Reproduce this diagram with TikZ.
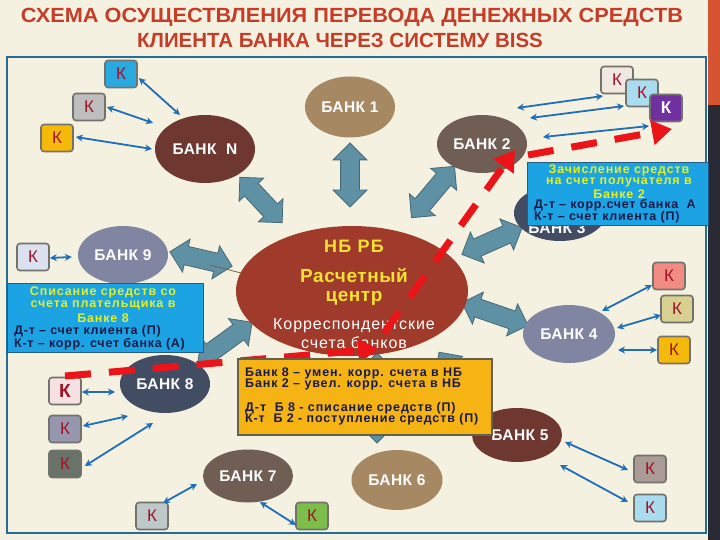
\documentclass[tikz,border=0pt]{standalone}
\usepackage{fontspec}
\setmainfont{Liberation Sans}
\usetikzlibrary{shapes.geometric,shapes.arrows,arrows.meta,calc}
\definecolor{bg}{RGB}{245,241,224}
\definecolor{titlered}{RGB}{197,60,40}
\definecolor{framecol}{RGB}{35,110,150}
\definecolor{stripor}{RGB}{214,84,50}
\definecolor{stripdk}{RGB}{42,42,52}
\definecolor{bafill}{RGB}{95,145,165}
\definecolor{badraw}{RGB}{70,105,120}
\definecolor{bluearr}{RGB}{30,110,185}
\definecolor{kborder}{RGB}{115,115,110}
\definecolor{kred}{RGB}{160,20,40}
\definecolor{redarr}{RGB}{235,20,25}
\definecolor{calfill}{RGB}{28,163,228}
\definecolor{calborder}{RGB}{40,90,130}
\definecolor{calyel}{RGB}{225,240,40}
\definecolor{darktxt}{RGB}{25,25,70}
\definecolor{ybox}{RGB}{245,180,20}
\definecolor{yboxborder}{RGB}{100,95,80}
\definecolor{cTan}{RGB}{166,137,99}
\definecolor{cGrayBrown}{RGB}{112,94,85}
\definecolor{cDarkBrown}{RGB}{110,55,48}
\definecolor{cCenter}{RGB}{160,58,42}
\definecolor{cSlate}{RGB}{128,134,162}
\definecolor{cNavy}{RGB}{66,76,99}
\definecolor{cenyel}{RGB}{245,225,50}
\definecolor{kcA}{RGB}{40,170,225}
\definecolor{kcB}{RGB}{190,190,190}
\definecolor{kcC}{RGB}{245,185,10}
\definecolor{kcD}{RGB}{240,232,225}
\definecolor{kcE}{RGB}{170,220,240}
\definecolor{kcF}{RGB}{112,48,160}
\definecolor{kcG}{RGB}{220,225,240}
\definecolor{kcH}{RGB}{245,225,225}
\definecolor{kcI}{RGB}{150,150,175}
\definecolor{kcJ}{RGB}{105,115,105}
\definecolor{kcK}{RGB}{190,200,200}
\definecolor{kcL}{RGB}{125,190,75}
\definecolor{kcM}{RGB}{240,140,130}
\definecolor{kcN}{RGB}{215,208,145}
\definecolor{kcO}{RGB}{170,155,150}
\newfontfamily\spacedA[LetterSpace=7]{Liberation Sans}
\newfontfamily\spacedB[LetterSpace=6]{Liberation Sans}
\newfontfamily\spacedC[LetterSpace=3]{Liberation Sans}
\tikzset{
  bank/.style={ellipse, fill=#1, draw=none, inner sep=0pt, text=white,
    font=\spacedC\fontsize{15.5}{15.5}\selectfont\bfseries},
  kbox/.style={rectangle, rounded corners=3pt, draw=kborder, line width=1.6pt,
    fill=#1, minimum width=32pt, minimum height=27pt, inner sep=0pt, text=kred,
    font=\fontsize{17}{17}\selectfont},
  barrow/.style={double arrow, fill=bafill, draw=badraw, line width=0.8pt,
    inner xsep=0pt, inner ysep=9pt, double arrow head extend=7.5pt,
    double arrow head indent=0pt},
  biarr/.style={draw=bluearr, line width=1.8pt,
    {Stealth[length=7pt,width=7pt]}-{Stealth[length=7pt,width=7pt]}},
  redline/.style={draw=redarr, line width=7pt, dash pattern=on 26pt off 18pt,
    -{Triangle[length=20pt,width=24pt]}},
  callout/.style={rectangle, fill=calfill, draw=calborder, line width=0.8pt,
    inner sep=0pt},
  calhead/.style={text=calyel, font=\spacedA\fontsize{12.5}{12.5}\selectfont\bfseries, inner sep=0pt},
  caldark/.style={text=darktxt, font=\spacedB\fontsize{12.5}{12.5}\selectfont\bfseries, inner sep=0pt, anchor=west},
  yline/.style={text=darktxt, font=\spacedA\fontsize{12.5}{12.5}\selectfont\bfseries, inner sep=0pt, anchor=west},
}
\begin{document}
\begin{tikzpicture}[x=1pt,y=-1pt]
\useasboundingbox (0,0) rectangle (720,540);
% background
\fill[bg] (0,0) rectangle (720,540);
\fill[stripor] (708,0) rectangle (720,105);
\fill[stripdk] (708,105) rectangle (720,540);
% title
\node[text=titlered, font=\fontsize{20.5}{20.5}\selectfont\bfseries, inner sep=0pt] (t1) at (352,17) {\scalebox{1.06}[1]{СХЕМА ОСУЩЕСТВЛЕНИЯ ПЕРЕВОДА ДЕНЕЖНЫХ СРЕДСТВ}};
\node[text=titlered, font=\fontsize{20.5}{20.5}\selectfont\bfseries, inner sep=0pt] (t2) at (340,40) {КЛИЕНТА БАНКА ЧЕРЕЗ СИСТЕМУ BISS};
% frame
\draw[framecol, line width=1.8pt] (7,57) rectangle (706,533);

% block double arrows
\node[barrow, minimum height=64pt, rotate=90] (ba1) at (350,175) {};
\node[barrow, minimum height=62pt, rotate=-47] (baN) at (261,200) {};
\node[barrow, minimum height=67pt, rotate=50] (ba2) at (433,192) {};
\node[barrow, minimum height=64pt, rotate=-13] (ba9) at (201,259) {};
\node[barrow, minimum height=66pt, rotate=24] (ba3) at (492,241) {};
\node[barrow, minimum height=70pt, rotate=-19] (ba4) at (495,314) {};
\node[barrow, minimum height=67pt, rotate=36] (ba8) at (225,342) {};
\node[barrow, minimum height=90pt, rotate=90] (ba6) at (377,398) {};
\node[barrow, minimum height=80pt, rotate=-55] (ba5) at (462,385) {};

% banks
\draw[cTan!70!black, line width=0.8pt] (210,265) -- (245,274);
\node[bank=cCenter, minimum width=232pt, minimum height=130pt] (nb) at (352,291) {};
\node[bank=cTan, minimum width=90pt, minimum height=61pt] (b1) at (350,107) {БАНК 1};
\node[bank=cGrayBrown, minimum width=90pt, minimum height=58pt] (b2) at (482,144) {БАНК 2};
\node[bank=cDarkBrown, minimum width=100pt, minimum height=68pt] (bn) at (205,149) {БАНК\ \ N};
\node[bank=cNavy, minimum width=92pt, minimum height=56pt] (b3) at (560,213) {};
\node[text=white, font=\spacedC\fontsize{15.5}{15.5}\selectfont\bfseries, inner sep=0pt] (b3t) at ($(b3)+(-3,15)$) {БАНК 3};
\node[bank=cSlate, minimum width=90pt, minimum height=58pt] (b9) at (123,255) {БАНК 9};
\node[bank=cSlate, minimum width=92pt, minimum height=58pt] (b4) at (569,334) {БАНК 4};
\node[bank=cNavy, minimum width=90pt, minimum height=58pt] (b8) at (165,384) {БАНК 8};
\node[bank=cGrayBrown, minimum width=90pt, minimum height=53pt] (b7) at (248,476) {БАНК 7};
\node[bank=cTan, minimum width=91pt, minimum height=60pt] (b6) at (397,480) {БАНК 6};
\node[bank=cDarkBrown, minimum width=90pt, minimum height=54pt] (b5) at (517,435) {\hspace*{6pt}БАНК 5};

% center texts
\node[text=cenyel, font=\spacedA\fontsize{18}{18}\selectfont\bfseries, inner sep=0pt] (nbt) at (354,246) {НБ РБ};
\node[text=cenyel, font=\spacedC\fontsize{19}{19}\selectfont\bfseries, inner sep=0pt] (rc1) at (354,276) {Расчетный};
\node[text=cenyel, font=\spacedC\fontsize{19}{19}\selectfont\bfseries, inner sep=0pt] (rc2) at (354,298) {центр};
\node[text=white, font=\spacedB\fontsize{16}{16}\selectfont, inner sep=0pt] (ks1) at (354,326) {Корреспондентские};
\node[text=white, font=\spacedB\fontsize{16}{16}\selectfont, inner sep=0pt] (ks2) at (354,343) {счета банков};

% K boxes
\node[kbox=kcA] (k1) at (121,74) {К};
\node[kbox=kcB] (k2) at (89,107) {К};
\node[kbox=kcC] (k3) at (57,138) {К};
\node[kbox=kcD] (kt1) at (617,80) {К};
\node[kbox=kcE] (kt2) at (642,93) {К};
\node[kbox=kcF, text=white, font=\fontsize{17}{17}\selectfont\bfseries] (kt3) at (666,108) {К};
\node[kbox=kcG] (k9) at (33,257) {К};
\node[kbox=kcH, font=\fontsize{19}{19}\selectfont\bfseries] (k8a) at (65,391) {К};
\node[kbox=kcI] (k8b) at (65,429) {К};
\node[kbox=kcJ] (k8c) at (65,464) {К};
\node[kbox=kcK] (kb1) at (152,516) {К};
\node[kbox=kcL] (kb2) at (312,516) {К};
\node[kbox=kcM] (kr1) at (669,276) {К};
\node[kbox=kcN] (kr2) at (677,309) {К};
\node[kbox=kcC] (kr3) at (674,350) {К};
\node[kbox=kcO] (k5a) at (650,469) {К};
\node[kbox=kcE] (k5b) at (650,508) {К};

% blue double arrows
\draw[biarr] ($(k1.east)+(1,4)$) -- ($(bn)+(-25,-34)$);
\draw[biarr] ($(k2.east)+(1,0)$) -- ($(bn)+(-52,-26)$);
\draw[biarr] ($(k3.east)+(2,-1)$) -- ($(bn)+(-53,0)$);
\draw[biarr] ($(b2)+(35,-36)$) -- ($(kt1)+(-14,16)$);
\draw[biarr] ($(b2)+(48,-26)$) -- ($(kt2)+(-18,13)$);
\draw[biarr] ($(b2)+(61,-7)$) -- ($(kt3)+(-17,18)$);
\draw[biarr] ($(k9.east)+(0,1)$) -- ($(b9.west)+(-6,2)$);
\draw[biarr] ($(k8a.east)+(0,1)$) -- ($(b8)+(-50,8)$);
\draw[biarr] ($(k8b.east)+(1,-3)$) -- ($(b8)+(-37,32)$);
\draw[biarr] ($(k8c.east)+(3,2)$) -- ($(b8)+(-12,39)$);
\draw[biarr] ($(kb1)+(11,-13)$) -- ($(b7)+(-51,8)$);
\draw[biarr] ($(b7)+(12,26)$) -- ($(kb2)+(-16,9)$);
\draw[biarr] ($(b4)+(33,-23)$) -- ($(kr1)+(-17,9)$);
\draw[biarr] ($(b4)+(48,-6)$) -- ($(kr2)+(-16,6)$);
\draw[biarr] ($(b4)+(49,16)$) -- ($(kr3)+(-17,0)$);
\draw[biarr] ($(b5)+(48,7)$) -- ($(k5a)+(-22,1)$);
\draw[biarr] ($(b5)+(43,30)$) -- ($(k5b)+(-22,-6)$);

% red dashed arrows
\coordinate (r1s) at ($(k8a)+(0,-15)$);
\coordinate (r1e) at ($(nb)+(26,58)$);
\draw[redline] (r1s) -- (r1e);
\coordinate (r2s) at ($(nb)+(32,42)$);
\coordinate (r2e) at ($(b2)+(33,6)$);
\draw[redline] (r2s) -- (r2e);
\coordinate (r3s) at ($(b2)+(46,11)$);
\coordinate (r3e) at ($(kt3)+(6,21)$);
\draw[redline] (r3s) -- (r3e);

% right callout
\node[callout, minimum width=181pt, minimum height=63pt] (cr) at (617.5,193.5) {};
\node[calhead] (cr1) at (619,170) {Зачисление средств};
\node[calhead] (cr2) at (619,182) {на счет получателя в};
\node[calhead] (cr3) at (619,194) {Банке 2};
\node[caldark] (cr4) at (534,205.5) {Д-т – корр.счет банка\ \ А};
\node[caldark] (cr5) at (534,217.5) {К-т – счет клиента (П)};

% left callout
\node[callout, minimum width=196pt, minimum height=69pt] (cl) at (105,317.5) {};
\node[calhead] (cl1) at (103,292) {Списание средств со};
\node[calhead] (cl2) at (103,305) {счета плательщика в};
\node[calhead] (cl3) at (103,318) {Банке 8};
\node[caldark] (cl4) at (14,331) {Д-т – счет клиента (П)};
\node[caldark] (cl5) at (14,344) {К-т – корр. счет банка (А)};

% yellow box
\node[rectangle, fill=ybox, draw=yboxborder, line width=1.2pt, minimum width=254pt, minimum height=76pt, inner sep=0pt] (yb) at (365,397) {};
\node[yline] (y1) at (245,373) {Банк 8 – умен. корр. счета в НБ};
\node[yline] (y2) at (245,384) {Банк 2 – увел. корр. счета в НБ};
\node[yline] (y3) at (245,408) {Д-т\ \ Б 8 - списание средств (П)};
\node[yline] (y4) at (245,419) {К-т\ \ Б 2 - поступление средств (П)};
\end{tikzpicture}
\end{document}
